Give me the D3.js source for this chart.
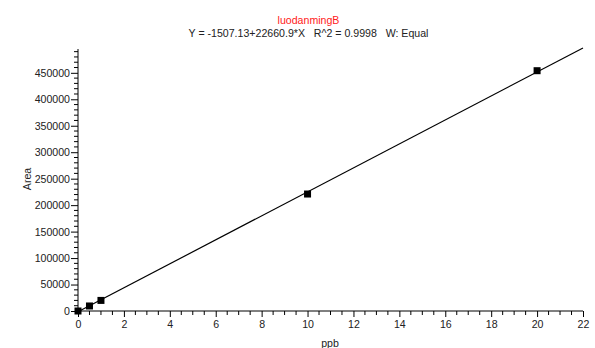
<!DOCTYPE html>
<html>
<head>
<meta charset="utf-8">
<script src="https://cdn.jsdelivr.net/npm/d3@7"></script>
<style>
  body { margin: 0; background: #fff; }
  svg text { font-family: "Liberation Sans", Arial, sans-serif; }
</style>
</head>
<body>
<div class="chart"></div>
<script>
// calibration points
var conc = [0, 0.5, 1, 10, 20];
var area = [0, 9500, 20000, 221000, 454000];

// fit as printed above the chart
var fitIntercept = -1507.13;
var fitSlope = 22660.9;
var fitRange = [0, 22];

var titleText = "luodanmingB";
var equationText = "Y = -1507.13+22660.9*X   R^2 = 0.9998   W: Equal";

var xTicks = [0, 2, 4, 6, 8, 10, 12, 14, 16, 18, 20, 22];
var yTicks = [0, 50000, 100000, 150000, 200000, 250000, 300000, 350000, 400000, 450000];

var svgWidth = 595, svgHeight = 348;

var svg = d3.select(".chart")
  .append("svg")
  .attr("width", svgWidth)
  .attr("height", svgHeight);

var x = d3.scaleLinear().domain([0, 22]).range([78, 583]);
var y = d3.scaleLinear().domain([0, 495000]).range([311, 49]);

// minor ticks
var xMinor = d3.range(0, 22.01, 0.5).filter(d => d % 2 != 0);
var yMinor = d3.range(0, 495000, 10000).filter(d => d % 50000 != 0);

// x axis
var xAxis = svg.append("g").attr("transform", "translate(0,311)");
xAxis.call(d3.axisBottom(x).tickValues(xTicks).tickSize(6).tickPadding(3).tickFormat(d3.format("d")));
xAxis.select(".domain").attr("d", "M78,0H583");
xAxis.selectAll(".minor").data(xMinor).enter().append("line")
  .attr("class", "minor")
  .attr("x1", d => x(d)).attr("x2", d => x(d))
  .attr("y1", 0).attr("y2", 4)
  .attr("stroke", "#000");

// y axis
var yAxis = svg.append("g").attr("transform", "translate(78,0)");
yAxis.call(d3.axisLeft(y).tickValues(yTicks).tickSize(7).tickPadding(1).tickFormat(d3.format("d")));
yAxis.select(".domain").attr("d", "M0,311V49");
yAxis.selectAll(".minor").data(yMinor).enter().append("line")
  .attr("class", "minor")
  .attr("y1", d => y(d)).attr("y2", d => y(d))
  .attr("x1", 0).attr("x2", -4)
  .attr("stroke", "#000");

svg.selectAll(".tick text")
  .attr("font-size", "10.6px")
  .attr("fill", "#222");

// fit line
var fitLine = d3.line()
  .x(d => x(d))
  .y(d => y(fitIntercept + fitSlope * d));

svg.append("path")
  .datum(fitRange)
  .attr("d", fitLine)
  .attr("fill", "none")
  .attr("stroke", "#000")
  .attr("stroke-width", 1.2);

// points
svg.selectAll(".pt")
  .data(conc)
  .enter()
  .append("rect")
  .attr("class", "pt")
  .attr("x", d => x(d) - 3.5)
  .attr("y", (d, i) => y(area[i]) - 3.5)
  .attr("width", 7)
  .attr("height", 7)
  .attr("fill", "#000");

// titles
svg.append("text")
  .attr("x", 308.5).attr("y", 24)
  .attr("text-anchor", "middle")
  .attr("font-size", "10.6px")
  .attr("fill", "#ff2020")
  .text(titleText);

svg.append("text")
  .attr("x", 308.5).attr("y", 37)
  .attr("text-anchor", "middle")
  .attr("font-size", "10.6px")
  .attr("fill", "#222")
  .style("white-space", "pre")
  .text(equationText);

svg.append("text")
  .attr("x", 330).attr("y", 347)
  .attr("text-anchor", "middle")
  .attr("font-size", "10.6px")
  .attr("fill", "#222")
  .text("ppb");

svg.append("text")
  .attr("transform", "translate(31,179)rotate(-90)")
  .attr("text-anchor", "middle")
  .attr("font-size", "10.6px")
  .attr("fill", "#222")
  .text("Area");
</script>
</body>
</html>
